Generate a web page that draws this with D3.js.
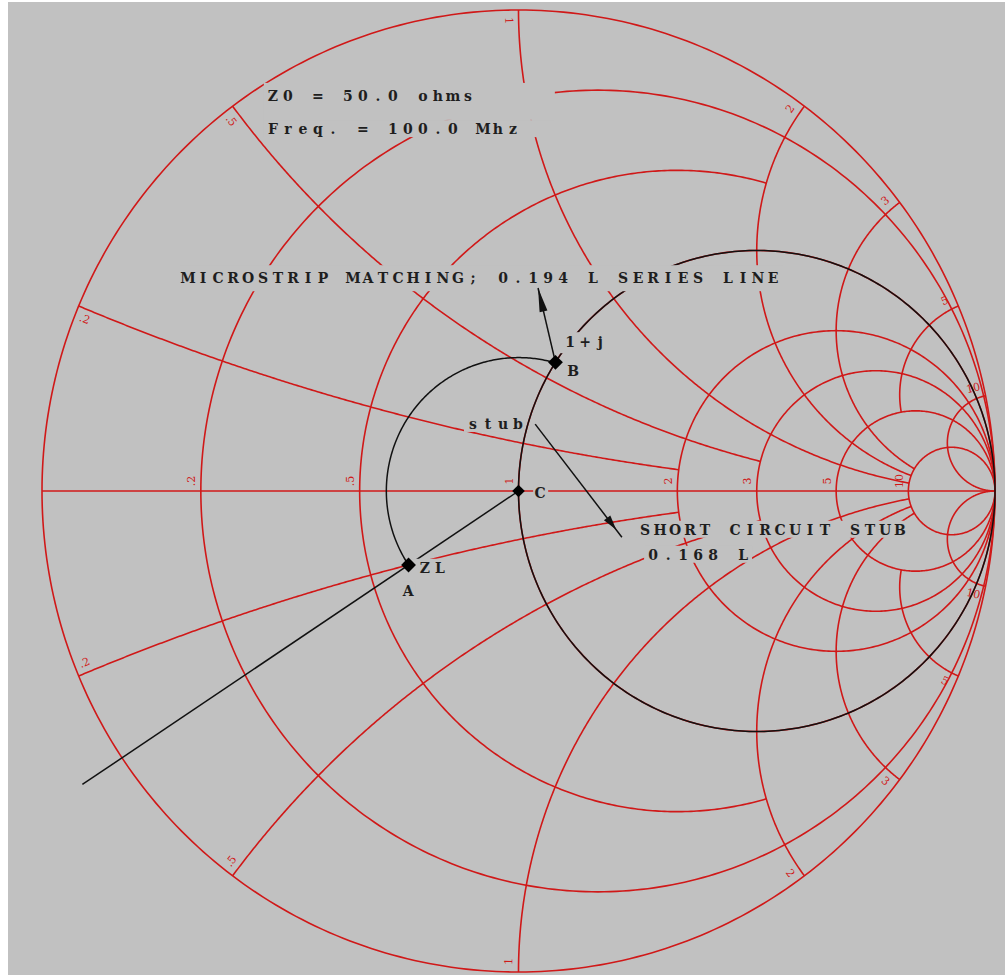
<!DOCTYPE html>
<html><head><meta charset="utf-8">
<script src="https://cdn.jsdelivr.net/npm/d3@7"></script>
<style>html,body{margin:0;padding:0;background:#fff;}svg{display:block}</style>
</head><body>
<script>
// ---------- data ----------
const rValues = [0, 0.2, 0.5, 1, 2, 3, 5, 10];           // constant-resistance circles
const rMaxX   = [Infinity, Infinity, 2, Infinity, Infinity, Infinity, Infinity, Infinity]; // |x| drawn up to
const xValues = [0.2, 0.5, 1, 2, 3, 5, 10];               // constant-reactance arcs (+/-)
const xMaxR   = [2, 3, 10, 10, 10, 5, Infinity];          // r drawn up to
const scaleLabels = [".2", ".5", "1", "2", "3", "5", "10"];
const loadZ  = [0.6, -0.2];   // A : ZL (normalized)
const pointB = [1, 0.58];     // B : 1+j
const pointC = [1, 0];        // C : matched
const pointNames = ["A", "B", "C"];
const lineExtent = 1.1;       // C-A line extended past rim (|Gamma|)
const noteTexts = ["Z0 = 50.0 ohms", "Freq. = 100.0 Mhz", "MICROSTRIP MATCHING; 0.194 L SERIES LINE",
                   "1+j", "B", "stub", "C", "ZL", "A", "SHORT CIRCUIT STUB", "0.168 L"];
const noteGx = [-0.526, -0.526, -0.704, 0.098, 0.104, -0.106, 0.035, -0.207, -0.242, 0.255, 0.272];
const noteGy = [0.811, 0.742, 0.432, 0.299, 0.239, 0.129, -0.015, -0.170, -0.218, -0.091, -0.143];
const arrowFromGx = [null, 0.035], arrowFromGy = [null, 0.139];   // null -> starts at B
const arrowToGx = [0.041, 0.217], arrowToGy = [0.422, -0.096];

// ---------- layout / style ----------
const BG = "#c1c1c1", RED = "#d01818", INK = "#1e1e1e";
const X = d3.scaleLinear().domain([-1, 1]).range([42, 995]);
const Y = d3.scaleLinear().domain([-1, 1]).range([972, 10]);
const line = d3.line().x(d => X(d[0])).y(d => Y(d[1]));

function gamma(r, x) {
  const den = (r + 1) * (r + 1) + x * x;
  return [(r * r + x * x - 1) / den, 2 * x / den];
}
function rCircle(r, xmax) {
  const c = r / (1 + r), rho = 1 / (1 + r);
  let a0 = 0, a1 = 2 * Math.PI;
  if (isFinite(xmax)) { const g = gamma(r, xmax); a0 = Math.atan2(g[1], g[0] - c); a1 = 2 * Math.PI - a0; }
  const n = 400;
  return d3.range(n + 1).map(i => { const a = a0 + (a1 - a0) * i / n; return [c + rho * Math.cos(a), rho * Math.sin(a)]; });
}
function xArc(x, rmax) {
  const s = Math.sign(x), ax = Math.abs(x), cy = 1 / ax, rho = 1 / ax;
  const ang = r => { const g = gamma(r, ax); let a = Math.atan2(g[1] - cy, g[0] - 1); if (a < 0) a += 2 * Math.PI; return a; };
  const a0 = ang(0), a1 = isFinite(rmax) ? ang(rmax) : 1.5 * Math.PI;
  const n = 300;
  return d3.range(n + 1).map(i => { const a = a0 + (a1 - a0) * i / n; return [1 + rho * Math.cos(a), s * (cy + rho * Math.sin(a))]; });
}

const svg = d3.select("body").append("svg").attr("width", 1005).attr("height", 977);
svg.append("rect").attr("width", 1005).attr("height", 977).attr("fill", "#fff");
svg.append("rect").attr("x", 8).attr("y", 2).attr("width", 997).attr("height", 973).attr("fill", BG);

// ---------- red grid ----------
const grid = svg.append("g").attr("fill", "none").attr("stroke", RED).attr("stroke-width", 1.6);
rValues.forEach((r, i) => grid.append("path").attr("d", line(rCircle(r, rMaxX[i]))));
xValues.forEach((x, i) => [1, -1].forEach(s => grid.append("path").attr("d", line(xArc(s * x, xMaxR[i])))));
grid.append("path").attr("d", line([[-1, 0], [1, 0]]));

// ---------- red labels ----------
const lab = svg.append("g").attr("fill", RED).attr("font-family", "DejaVu Serif, serif")
  .attr("font-size", 11).attr("text-anchor", "middle").attr("dominant-baseline", "central");
rValues.slice(1).forEach((r, i) => {
  const g = gamma(r, 0);
  lab.append("text").attr("transform", `translate(${X(g[0]) - 9},${Y(0) - 10}) rotate(-90)`).text(scaleLabels[i]);
});
xValues.forEach((x, i) => [1, -1].forEach(s => {
  const g = gamma(0, s * x);
  const th = Math.atan2(g[1], g[0]) + s * 0.021;
  let rot = -th * 180 / Math.PI; if (Math.abs(th) > Math.PI / 2) rot += 180;
  lab.append("text").attr("transform", `translate(${X(0.978 * Math.cos(th))},${Y(0.978 * Math.sin(th))}) rotate(${rot})`)
    .text(scaleLabels[i]);
}));

// ---------- black construction ----------
const blk = svg.append("g").attr("fill", "none").attr("stroke", "#111").attr("stroke-width", 1.5);
blk.append("path").attr("d", line(rCircle(1, Infinity)));
const gA = gamma(loadZ[0], loadZ[1]), gB = gamma(pointB[0], pointB[1]), gC = gamma(pointC[0], pointC[1]);
const rhoA = Math.hypot(gA[0], gA[1]);
let thA = Math.atan2(gA[1], gA[0]); if (thA < 0) thA += 2 * Math.PI;
const thB = Math.atan2(gB[1], gB[0]);
blk.append("path").attr("d", line(d3.range(201).map(i => { const a = thA + (thB - thA) * i / 200; return [rhoA * Math.cos(a), rhoA * Math.sin(a)]; })));
blk.append("path").attr("d", line([gC, [lineExtent * Math.cos(thA), lineExtent * Math.sin(thA)]]));

// ---------- annotation boxes + texts (monospaced cells) ----------
const CH = 15; // character pitch
const notePads = [[4, 82, 4, 16], [4, 37, 0, 0], [4, 4, 4, 5], [7, 3, 1, 3], [2, 2, 0, 0], [4, -1, 0, 0],
                  [2, 3, 0, 0], [8, 3, 0, 0], [2, 2, 0, 0], [4, 4, 0, 0], [4, 4, 0, 0]];
const boxes = svg.append("g").attr("fill", BG);
const texts = svg.append("g").attr("fill", INK).attr("font-family", "DejaVu Serif, serif")
  .attr("font-size", 14).attr("font-weight", "bold").attr("text-anchor", "middle");
noteTexts.forEach((t, i) => {
  const x = X(noteGx[i]), y = Y(noteGy[i]), p = notePads[i];
  const w = (t.length - 1) * CH + 10;
  boxes.append("rect").attr("x", x - p[0]).attr("y", y - 14 - p[2]).attr("width", w + p[0] + p[1]).attr("height", 17 + p[2] + p[3]);
  const xs = Array.from(t, (c, k) => (x + 5 + k * CH).toFixed(1)).join(" ");
  texts.append("text").attr("x", xs).attr("y", y).text(t);
});

// ---------- arrows ----------
const arr = svg.append("g");
arrowToGx.forEach((tx, i) => {
  const from = arrowFromGx[i] === null ? gB : [arrowFromGx[i], arrowFromGy[i]];
  const p0 = [X(from[0]), Y(from[1])], p1 = [X(tx), Y(arrowToGy[i])];
  arr.append("line").attr("x1", p0[0]).attr("y1", p0[1]).attr("x2", p1[0]).attr("y2", p1[1])
    .attr("stroke", "#111").attr("stroke-width", 1.5);
  const frac = i === 0 ? 1 : 0.935, len = i === 0 ? 24 : 15, hw = 4;
  const tip = [p0[0] + (p1[0] - p0[0]) * frac, p0[1] + (p1[1] - p0[1]) * frac];
  const L = Math.hypot(p1[0] - p0[0], p1[1] - p0[1]), ux = (p1[0] - p0[0]) / L, uy = (p1[1] - p0[1]) / L;
  const b = [tip[0] - ux * len, tip[1] - uy * len];
  arr.append("path").attr("fill", "#111")
    .attr("d", `M${tip[0]},${tip[1]}L${b[0] - uy * hw},${b[1] + ux * hw}L${b[0] + uy * hw},${b[1] - ux * hw}Z`);
});

// ---------- points ----------
const pts = [gA, gB, gC];
svg.append("g").selectAll("path").data(pts).join("path")
  .attr("transform", d => `translate(${X(d[0])},${Y(d[1])}) rotate(45)`)
  .attr("d", (d, i) => d3.symbol(d3.symbolSquare, i === 2 ? 80 : 110)())
  .attr("fill", "#000").append("title").text((d, i) => pointNames[i]);
</script>
</body></html>
